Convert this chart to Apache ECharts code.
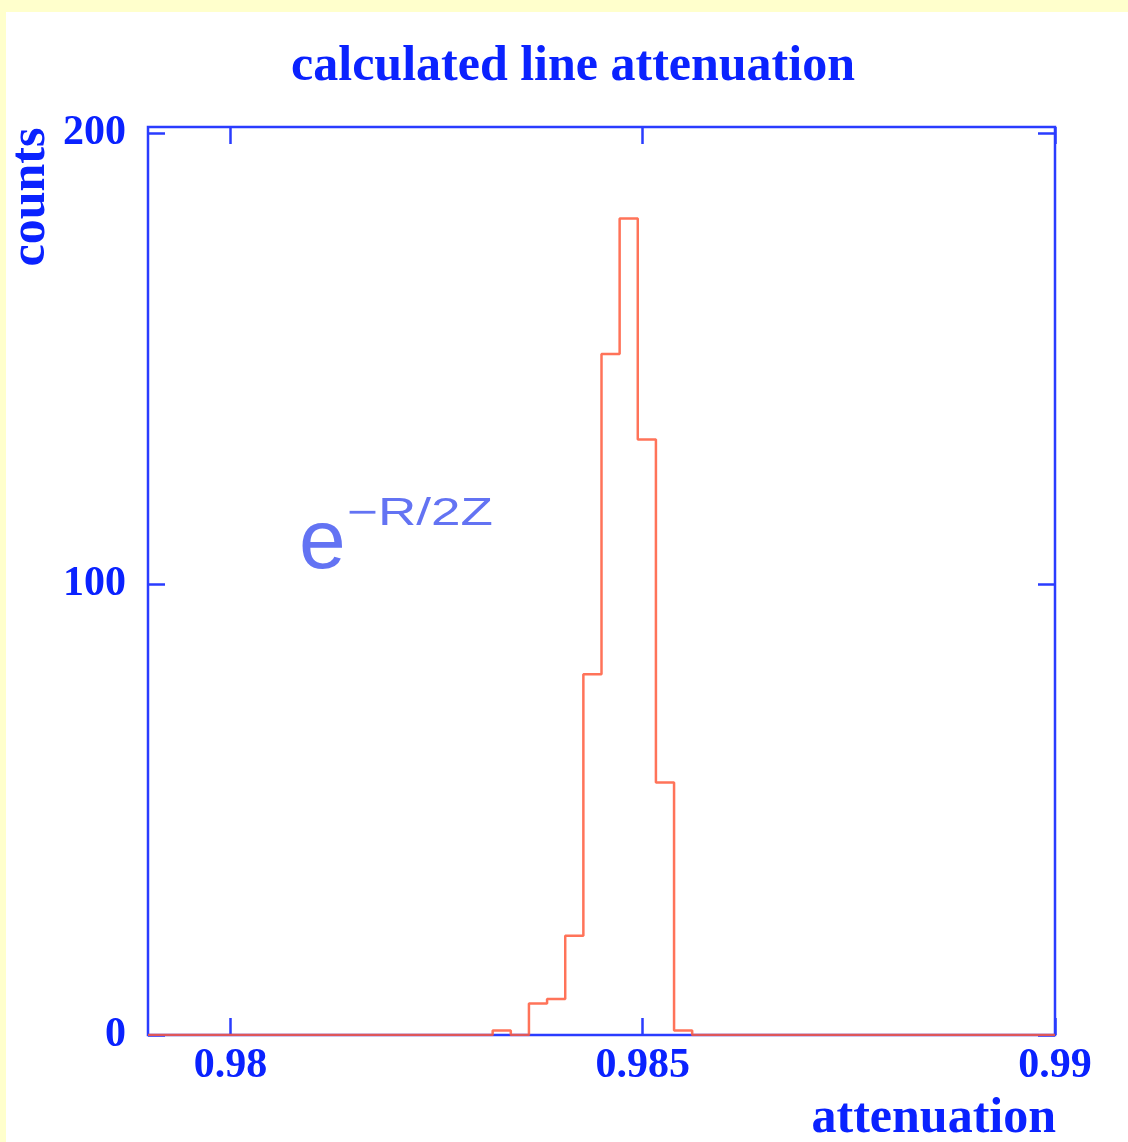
<!DOCTYPE html>
<html>
<head>
<meta charset="utf-8">
<script src="https://cdn.jsdelivr.net/npm/echarts@6/dist/echarts.min.js"></script>
<style>
html, body { margin: 0; padding: 0; background: #ffffcc; }
#main { width: 1128px; height: 1142px; }
</style>
</head>
<body>
<div id="main"></div>
<script>
// histogram binning (50 bins between 0.979 and 0.99)
var binStart = 0.979;
var binWidth = 0.00022;
// counts per bin
var counts = [
    0, 0, 0, 0, 0, 0, 0, 0, 0, 0,
    0, 0, 0, 0, 0, 0, 0, 0, 0, 1,
    0, 7, 8, 22, 80, 151, 181, 132, 56, 1,
    0, 0, 0, 0, 0, 0, 0, 0, 0, 0,
    0, 0, 0, 0, 0, 0, 0, 0, 0, 0
];
var xTicks = [0.98, 0.985, 0.99];
var yTicks = [0, 100, 200];

var BLUE = '#0a22ff';
var FRAME = '#2a3cff';
var SERIF = '"Liberation Serif", "DejaVu Serif", serif';
var SANS = '"Liberation Sans", Arial, sans-serif';

/** step outline points: left edge of every bin, plus the closing right edge **/
function histPoints() {
    var pts = [];
    for (var k = 0; k < counts.length; k++) {
        pts.push([binStart + k * binWidth, counts[k]]);
    }
    pts.push([binStart + counts.length * binWidth, counts[counts.length - 1]]);
    return pts;
}

/** axis that only draws inward ticks (labels switched on where needed) **/
function tickAxis(pos, min, max, ticks, label) {
    return {
        type: 'value',
        position: pos,
        min: min,
        max: max,
        splitLine: { show: false },
        axisLine: { show: false, onZero: false },
        axisTick: {
            show: true,
            inside: true,
            length: 17,
            customValues: ticks,
            lineStyle: { color: FRAME, width: 2.5 }
        },
        axisLabel: label || { show: false }
    };
}

var myChart = echarts.init(document.getElementById('main'));
var option = {
    backgroundColor: '#ffffcc',
    animation: false,
    grid: {
        left: 148,
        right: 73,
        top: 127,
        bottom: 107,
        show: true,
        borderColor: FRAME,
        borderWidth: 2.5,
        backgroundColor: 'transparent'
    },
    xAxis: [
        tickAxis('bottom', 0.979, 0.99, xTicks, {
            show: true, customValues: xTicks, margin: 10,
            color: BLUE, fontFamily: SERIF, fontWeight: 'bold', fontSize: 42,
            formatter: function (v) { return String(v); }
        }),
        tickAxis('top', 0.979, 0.99, xTicks)
    ],
    yAxis: [
        tickAxis('left', 0, 201.3, yTicks, {
            show: true, customValues: yTicks, margin: 22,
            color: BLUE, fontFamily: SERIF, fontWeight: 'bold', fontSize: 42
        }),
        tickAxis('right', 0, 201.3, yTicks)
    ],
    graphic: [
        {
            type: 'rect', z: -10, silent: true,
            shape: { x: 6, y: 12, width: 1122, height: 1130 },
            style: { fill: '#ffffff' }
        },
        {
            type: 'text', x: 573, y: 67,
            style: {
                text: 'calculated line attenuation', fill: BLUE,
                font: 'bold 50px ' + SERIF, textAlign: 'center', textVerticalAlign: 'middle'
            }
        },
        {
            type: 'text', x: 31, y: 197, rotation: Math.PI / 2,
            style: {
                text: 'counts', fill: BLUE,
                font: 'bold 50px ' + SERIF, textAlign: 'center', textVerticalAlign: 'middle'
            }
        },
        {
            type: 'text', x: 1056, y: 1119,
            style: {
                text: 'attenuation', fill: BLUE,
                font: 'bold 50px ' + SERIF, textAlign: 'right', textVerticalAlign: 'middle'
            }
        },
        {
            type: 'text', x: 299, y: 545,
            style: {
                text: 'e', fill: '#5264f2', opacity: 0.9,
                font: '84px ' + SANS, textAlign: 'left', textVerticalAlign: 'middle'
            }
        },
        {
            type: 'text', x: 347, y: 514, scaleX: 1.36,
            style: {
                text: '\u2212R/2Z', fill: '#5264f2', opacity: 0.9,
                font: '39px ' + SANS, textAlign: 'left', textVerticalAlign: 'middle'
            }
        }
    ],
    series: [
        {
            name: 'attenuation',
            type: 'line',
            step: 'end',
            symbol: 'none',
            xAxisIndex: 0,
            yAxisIndex: 0,
            z: 5,
            data: histPoints(),
            lineStyle: { color: '#ff5a3c', width: 2.5, opacity: 0.85 }
        }
    ]
};
myChart.setOption(option);
</script>
</body>
</html>
